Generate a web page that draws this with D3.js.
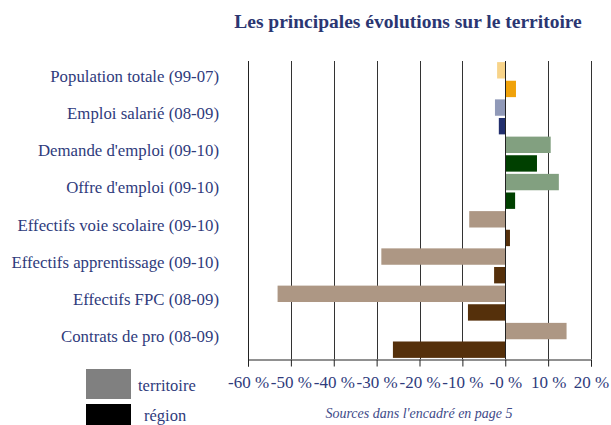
<!DOCTYPE html>
<html>
<head>
<meta charset="utf-8">
<script src="https://cdn.jsdelivr.net/npm/d3@7"></script>
<style>
  body { margin: 0; background: #fff; }
  text { font-family: "Liberation Serif", "DejaVu Serif", serif; }
</style>
</head>
<body>
<div id="chart"></div>
<script>

// categories, top to bottom
var categories = [
    "Population totale (99-07)",
    "Emploi salarié (08-09)",
    "Demande d'emploi (09-10)",
    "Offre d'emploi (09-10)",
    "Effectifs voie scolaire (09-10)",
    "Effectifs apprentissage (09-10)",
    "Effectifs FPC (08-09)",
    "Contrats de pro (08-09)"
];

// evolutions in %
var territoire = [-1.9, -2.4, 10.6, 12.5, -8.4, -28.9, -53.1, 14.3];
var region = [2.5, -1.5, 7.4, 2.3, 1.1, -2.6, -8.7, -26.2];

var ticks = [-60, -50, -40, -30, -20, -10, 0, 10, 20];
var tickLabels = ["-60 %", "-50 %", "-40 %", "-30 %", "-20 %", "-10 %", "-0 %", "10 %", "20 %"];

// colours per category: [territoire, region]
var barColors = [
    ["#f8d48a", "#f0a20a"],
    ["#9099b8", "#222f6d"],
    ["#82a080", "#004000"],
    ["#82a080", "#004000"],
    ["#ad9784", "#55300b"],
    ["#ad9784", "#55300b"],
    ["#ad9784", "#55300b"],
    ["#ad9784", "#55300b"]
];

var textColor = "#2f3b7c";

var svg = d3.select("#chart")
    .append("svg")
    .attr("width", 611)
    .attr("height", 425);

var x = d3.scaleLinear().domain([-60, 20]).range([248, 591]);
var y = d3.scaleBand().domain(categories).range([61, 359]);
var sub = d3.scaleBand().domain(["territoire", "region"])
    .range([0, y.bandwidth()]).paddingInner(0.12).paddingOuter(0.06);

// title
svg.append("text")
    .attr("x", 408)
    .attr("y", 28)
    .attr("text-anchor", "middle")
    .style("font-size", "19.5px")
    .style("font-weight", "bold")
    .attr("fill", "#2b3672")
    .text("Les principales évolutions sur le territoire");

// vertical grid
svg.append("g").selectAll("line")
    .data(ticks)
    .enter().append("line")
    .attr("x1", function(d) { return Math.round(x(d)) + 0.5; })
    .attr("x2", function(d) { return Math.round(x(d)) + 0.5; })
    .attr("y1", 61)
    .attr("y2", 359)
    .attr("stroke", "#333")
    .attr("stroke-width", 1);

// bars
var rows = svg.append("g").selectAll("g")
    .data(categories)
    .enter().append("g")
    .attr("transform", function(d) { return "translate(0," + y(d) + ")"; });

rows.each(function(c, i) {
    var g = d3.select(this);
    var vals = [["territoire", territoire[i]], ["region", region[i]]];
    vals.forEach(function(v, k) {
        g.append("rect")
            .attr("x", x(Math.min(0, v[1])))
            .attr("y", sub(v[0]))
            .attr("width", Math.abs(x(v[1]) - x(0)))
            .attr("height", sub.bandwidth())
            .attr("fill", barColors[i][k]);
    });
});

// zero line
svg.append("line")
    .attr("x1", Math.round(x(0)) + 0.5)
    .attr("x2", Math.round(x(0)) + 0.5)
    .attr("y1", 61)
    .attr("y2", 359)
    .attr("stroke", "#222");

// category labels
svg.append("g").selectAll("text")
    .data(categories)
    .enter().append("text")
    .attr("x", 219)
    .attr("y", function(d) { return y(d) + y.bandwidth() / 2 + 2; })
    .attr("text-anchor", "end")
    .style("font-size", "16.8px")
    .attr("fill", textColor)
    .text(function(d) { return d; });

// bottom axis
var axis = d3.axisBottom(x)
    .tickValues(ticks)
    .tickSize(7)
    .tickFormat(function(d, i) { return tickLabels[i]; });

var ax = svg.append("g")
    .attr("transform", "translate(0,359.5)")
    .call(axis);
ax.select(".domain").attr("stroke", "#222");
ax.selectAll(".tick line").attr("stroke", "#222");
ax.selectAll(".tick text")
    .attr("y", 16)
    .style("font-family", "'Liberation Serif', serif")
    .style("font-size", "17px")
    .attr("fill", textColor);

// left axis line
svg.append("line")
    .attr("x1", 248.5).attr("x2", 248.5)
    .attr("y1", 61).attr("y2", 360)
    .attr("stroke", "#222");

// legend
var legend = [["territoire", "#808080", 369, 391], ["région", "#000000", 404, 421]];
legend.forEach(function(l, i) {
    svg.append("rect")
        .attr("x", 86).attr("y", l[2])
        .attr("width", 45).attr("height", 30)
        .attr("fill", l[1]);
    svg.append("text")
        .attr("x", i === 0 ? 138 : 144)
        .attr("y", l[3])
        .style("font-size", "16.5px")
        .attr("fill", textColor)
        .text(l[0]);
});

// source
svg.append("text")
    .attr("x", 419)
    .attr("y", 418)
    .attr("text-anchor", "middle")
    .style("font-size", "14px")
    .style("font-style", "italic")
    .attr("fill", "#3e4a88")
    .text("Sources dans l'encadré en page 5");

</script>
</body>
</html>
